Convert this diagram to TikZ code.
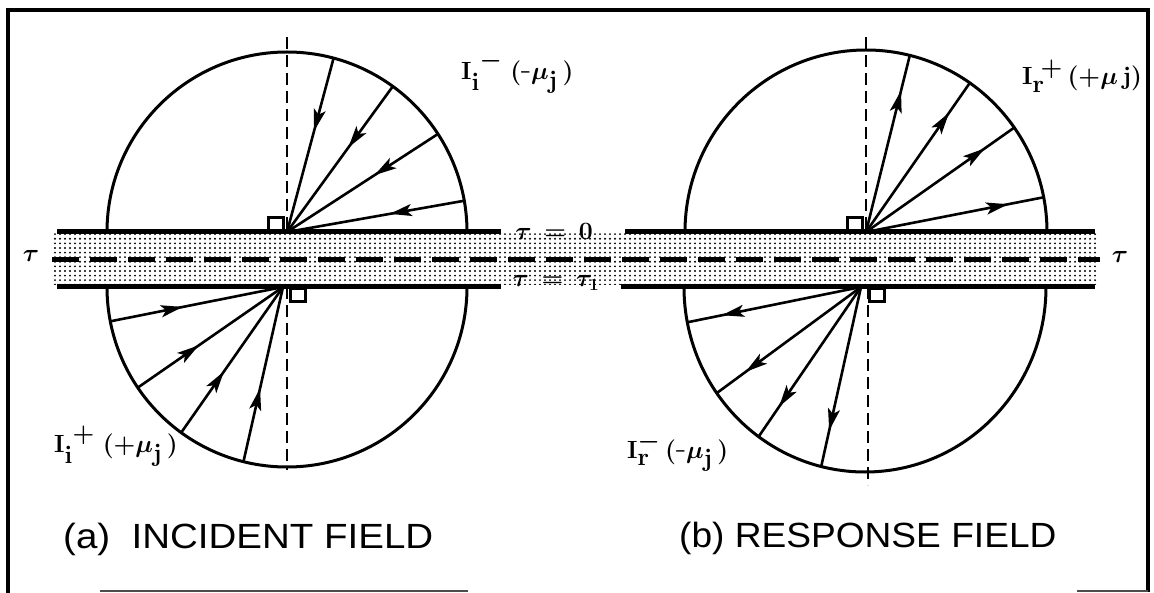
\documentclass[tikz,border=0pt]{standalone}
\usepackage[no-math]{fontspec}
\usepackage{graphicx}
\newfontfamily\capfont{Liberation Sans}
\usetikzlibrary{arrows.meta,patterns,patterns.meta,decorations.markings,calc}
\tikzdeclarepattern{name=stip, type=uncolored,
  bounding box={(-1.5pt,-1.5pt) and (1.5pt,1.5pt)},
  tile size={(5pt,4.6pt)},
  code={\fill (0pt,0pt) circle (1.05pt);}}
\tikzset{raytip/.tip={Stealth[length=22pt,width=12pt,inset=5pt]}}
\begin{document}
\begin{tikzpicture}[x=1pt,y=-1pt,
  frame/.style={line width=3.5pt},
  slabline/.style={line width=5pt},
  arcline/.style={line width=3pt},
  ray/.style={line width=2.6pt},
  vdash/.style={line width=2.6pt, dash pattern=on 12pt off 6pt},
  inarrow/.style={postaction={decorate}, decoration={markings, mark=at position 0.42 with {\arrow{raytip}}}},
  outarrow/.style={postaction={decorate}, decoration={markings, mark=at position 0.8 with {\arrow{raytip}}}},
  marker/.style={draw, line width=2.6pt, fill=white, minimum width=15pt, minimum height=13pt, inner sep=0pt},
  lab/.style={font=\fontsize{33}{38}\selectfont\boldmath, inner sep=0pt, anchor=base west},
  taulab/.style={font=\fontsize{34}{38}\selectfont\boldmath, inner sep=0pt},
  slablab/.style={font=\fontsize{25}{30}\selectfont\boldmath, inner sep=0pt},
  captext/.style={font=\capfont\fontsize{35}{40}\selectfont, inner sep=0pt, anchor=base west},
]
\useasboundingbox (0,0) rectangle (1154,593);

% stippled layer
\fill[pattern=stip, pattern color=black] (52,234) rectangle (1098,285);
\draw[line width=4.5pt, dash pattern=on 27pt off 11pt] (52,259.5) -- (1100,259.5);

% slab boundaries
\draw[slabline] (57,232) -- (501,232);
\draw[slabline] (625,232) -- (1095,232);
\draw[slabline] (57,287) -- (501,287);
\draw[slabline] (621,287) -- (1095,287);

% centres
\coordinate (cUL) at (287,232);
\coordinate (cLL) at (287,287);
\coordinate (fLL) at (283,287);
\coordinate (cUR) at (866,232);
\coordinate (cLR) at (865,287);
\coordinate (fLR) at (861,287);

% half circles
\draw[arcline] ($(cUL)+(-180,0)$) arc[start angle=180,end angle=360,x radius=180,y radius=180];
\draw[arcline] ($(cLL)+(180,0)$) arc[start angle=0,end angle=180,x radius=180,y radius=180];
\draw[arcline] ($(cUR)+(-181,0)$) arc[start angle=180,end angle=360,x radius=181,y radius=182];
\draw[arcline] ($(cLR)+(181,0)$) arc[start angle=0,end angle=180,x radius=181,y radius=185];

% vertical dashed normals
\coordinate (tUL) at (287,37);
\coordinate (bLL) at (287,470);
\coordinate (tUR) at (866,37);
\coordinate (bLR) at (868,485);
\draw[vdash] (tUL) -- (cUL);
\draw[vdash] (cLL) -- (bLL);
\draw[vdash] (tUR) -- (cUR);
\draw[vdash] (868,287) -- (bLR);

% rays (a) incident
\foreach \a [count=\i] in {75,54,33,10} {
  \coordinate (ua\i) at ($(cUL)+(-\a:180 and 180)$);
  \draw[ray,inarrow] (ua\i) -- (cUL);
}
\foreach \a [count=\i] in {191,214,234,256} {
  \coordinate (la\i) at ($(cLL)+(-\a:180 and 180)$);
  \draw[ray,inarrow] (la\i) -- (fLL);
}
% rays (b) response
\foreach \a [count=\i] in {76,55,35,11} {
  \coordinate (ub\i) at ($(cUR)+(-\a:181 and 182)$);
  \draw[ray,outarrow] (cUR) -- (ub\i);
}
\foreach \a [count=\i] in {191,215,234,256} {
  \coordinate (lb\i) at ($(cLR)+(-\a:181 and 185)$);
  \draw[ray,outarrow] (fLR) -- (lb\i);
}

% right-angle markers
\node[marker, anchor=south east] (mUL) at (285,232) {};
\node[marker, anchor=north west] (mLL) at (289,287) {};
\node[marker, anchor=south east] (mUR) at (864,232) {};
\node[marker, anchor=north west] (mLR) at (868,287) {};

% labels
\node[lab] (lUL) at (461,80) {$\mathbf{I}_{\mathbf i}^{\;-}\;(\mbox{-}\mu_{\mathbf j}\,)$};
\node[lab] (lUR) at (1022,85) {$\mathbf{I}_{\mathbf r}^{\;+}\,(+\mu\,\mathbf{j})$};
\node[lab] (lLL) at (54,453) {$\mathbf{I}_{\mathbf i}^{\;+}\;(+\mu_{\mathbf j}\,)$};
\node[lab] (lLR) at (627,458) {$\mathbf{I}_{\mathbf r}^{-}\,(\mbox{-}\mu_{\mathbf j}\,)$};

\node[taulab] (tauL) at (31,256) {$\tau$};
\node[taulab] (tauR) at (1120,257) {$\tau$};
\node[slablab] (t0) at (554,231) {$\tau\,=\,0$};
\node[slablab] (t1) at (556,283) {$\tau\,=\,\tau_1$};

% captions
\node[captext] (capA) at (63,548) {\scalebox{1.1}[1]{(a)\ \ INCIDENT FIELD}};
\node[captext] (capB) at (679,547) {\scalebox{1.06}[1]{(b) RESPONSE FIELD}};

% frame
\draw[frame] (8,593) -- (8,10) -- (1148,10) -- (1148,592);
\draw[line width=1.5pt, black!70] (100,591) -- (468,591);
\draw[line width=1.5pt, black!70] (1077,591) -- (1148,591);
\end{tikzpicture}
\end{document}
